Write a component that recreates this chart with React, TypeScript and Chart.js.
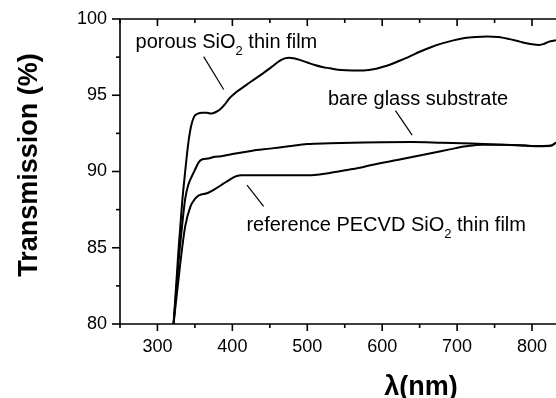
import React, { useEffect, useRef } from 'react';
import { Chart, registerables } from 'chart.js';

Chart.register(...registerables);

// wavelength (nm) and transmission (%) for each measured curve
const porousLambda = [320, 321.5, 328, 333, 337, 341, 345, 349, 354, 360, 366, 372, 378, 383, 390, 396, 405, 415, 425, 440, 455, 463, 470, 476, 482, 490, 500, 510, 520, 530, 545, 560, 575, 590, 600, 610, 620, 635, 650, 665, 680, 695, 710, 725, 740, 755, 770, 785, 800, 810, 815, 822, 832];
const porousT = [79.2, 80, 84.8, 88.0, 90.0, 91.8, 93.0, 93.6, 93.8, 93.85, 93.85, 93.8, 93.9, 94.05, 94.4, 94.8, 95.2, 95.55, 95.9, 96.4, 96.95, 97.25, 97.42, 97.46, 97.42, 97.32, 97.15, 96.98, 96.85, 96.77, 96.65, 96.62, 96.63, 96.72, 96.85, 97.0, 97.2, 97.5, 97.85, 98.15, 98.4, 98.6, 98.75, 98.82, 98.85, 98.82, 98.68, 98.5, 98.35, 98.3, 98.35, 98.5, 98.6];

const bareLambda = [320, 321.5, 328, 333, 337, 341, 346, 350, 355, 360, 368, 375, 385, 400, 425, 450, 475, 500, 530, 575, 600, 640, 680, 720, 760, 790, 810, 825, 832];
const bareT = [79.2, 80, 84.0, 86.5, 88.2, 89.1, 89.7, 90.1, 90.6, 90.8, 90.85, 90.95, 91.0, 91.15, 91.35, 91.5, 91.65, 91.8, 91.85, 91.9, 91.92, 91.93, 91.88, 91.83, 91.76, 91.7, 91.67, 91.7, 91.9];

const refLambda = [320, 321.5, 326, 331, 337, 344, 350, 356, 366, 375, 388, 395, 401, 406, 412, 420, 440, 480, 510, 530, 553, 575, 597, 620, 645, 670, 690, 712, 734, 760, 790, 810, 825, 832];
const refT = [79.2, 80, 82.0, 84.2, 86.4, 87.7, 88.2, 88.45, 88.57, 88.8, 89.2, 89.42, 89.6, 89.7, 89.75, 89.76, 89.75, 89.75, 89.77, 89.9, 90.1, 90.3, 90.54, 90.75, 91.0, 91.25, 91.45, 91.65, 91.76, 91.76, 91.7, 91.65, 91.68, 91.88];

// axis definitions
const xMin = 250;
const xMax = 832;
const xMajorStep = 100;
const xMinorStep = 50;
const yMin = 80;
const yMax = 100;
const yMajorStep = 5;
const yMinorStep = 2.5;

// texts
const yTitle = 'Transmission (%)';
const xTitle = 'λ(nm)';
const porousLabel = [{ t: 'porous SiO' }, { t: '2', sub: true }, { t: ' thin film' }];
const bareLabel = [{ t: 'bare glass substrate' }];
const refLabel = [{ t: 'reference PECVD SiO' }, { t: '2', sub: true }, { t: ' thin film' }];

const FONT = '"Liberation Sans", Arial, Helvetica, sans-serif';

function toPoints(xs: number[], ys: number[]) {
  return xs.map((x, i) => ({ x, y: ys[i] }));
}

function drawRich(ctx: CanvasRenderingContext2D, x: number, y: number, parts: { t: string; sub?: boolean }[]) {
  let cx = x;
  for (const p of parts) {
    ctx.font = p.sub ? `13px ${FONT}` : `20px ${FONT}`;
    ctx.fillText(p.t, cx, p.sub ? y + 7 : y);
    cx += ctx.measureText(p.t).width;
  }
}

const decorPlugin = {
  id: 'decor',
  afterDraw(chart: any) {
    const { ctx, chartArea: a } = chart;
    const xs = chart.scales.x;
    const ys = chart.scales.y;
    ctx.save();
    ctx.strokeStyle = '#000';
    ctx.fillStyle = '#000';
    ctx.lineWidth = 1.6;
    ctx.lineCap = 'butt';
    // frame (left, bottom, top)
    ctx.beginPath();
    ctx.moveTo(a.right + 2, a.top);
    ctx.lineTo(a.left, a.top);
    ctx.lineTo(a.left, a.bottom);
    ctx.lineTo(a.right + 2, a.bottom);
    ctx.stroke();
    // x ticks
    for (let v = xMin; v <= xMax; v += xMinorStep) {
      const px = xs.getPixelForValue(v);
      const major = v % xMajorStep === 0;
      const len = major ? 7 : 4;
      ctx.beginPath();
      ctx.moveTo(px, a.bottom);
      ctx.lineTo(px, a.bottom + len);
      ctx.moveTo(px, a.top);
      ctx.lineTo(px, a.top + len);
      ctx.stroke();
    }
    // y ticks
    for (let v = yMin; v <= yMax; v += yMinorStep) {
      const py = ys.getPixelForValue(v);
      const major = v % yMajorStep === 0;
      const len = major ? 8 : 4;
      ctx.beginPath();
      ctx.moveTo(a.left, py);
      ctx.lineTo(a.left - len, py);
      ctx.stroke();
    }
    // annotations with leader lines
    ctx.lineWidth = 1.2;
    const seg = (x1: number, y1: number, x2: number, y2: number) => {
      ctx.beginPath();
      ctx.moveTo(xs.getPixelForValue(x1), ys.getPixelForValue(y1));
      ctx.lineTo(xs.getPixelForValue(x2), ys.getPixelForValue(y2));
      ctx.stroke();
    };
    seg(361.7, 97.53, 388.4, 95.38);
    seg(617.7, 93.99, 640, 92.38);
    seg(419.6, 89.11, 441.7, 87.72);
    ctx.textAlign = 'left';
    ctx.textBaseline = 'alphabetic';
    drawRich(ctx, xs.getPixelForValue(270.7), ys.getPixelForValue(98.12), porousLabel);
    drawRich(ctx, xs.getPixelForValue(527.6), ys.getPixelForValue(94.36), bareLabel);
    drawRich(ctx, xs.getPixelForValue(418.7), ys.getPixelForValue(86.12), refLabel);
    // axis titles
    ctx.font = `bold 27px ${FONT}`;
    ctx.textAlign = 'center';
    ctx.save();
    ctx.translate(a.left - 83, 165);
    ctx.rotate(-Math.PI / 2);
    ctx.fillText(yTitle, 0, 0);
    ctx.restore();
    ctx.fillText(xTitle, 421, 395);
    ctx.restore();
  },
};

export default function App() {
  const ref = useRef<HTMLCanvasElement | null>(null);
  useEffect(() => {
    if (!ref.current) return;
    const lineStyle = {
      borderColor: '#000',
      borderWidth: 2,
      pointRadius: 0,
      fill: false,
      cubicInterpolationMode: 'monotone' as const,
    };
    const chart = new Chart(ref.current, {
      type: 'line',
      data: {
        datasets: [
          { label: 'porous SiO2 thin film', data: toPoints(porousLambda, porousT), ...lineStyle },
          { label: 'bare glass substrate', data: toPoints(bareLambda, bareT), ...lineStyle },
          { label: 'reference PECVD SiO2 thin film', data: toPoints(refLambda, refT), ...lineStyle },
        ],
      },
      options: {
        animation: false,
        responsive: false,
        layout: { padding: { top: 19, right: 0, left: 0, bottom: 0 } },
        plugins: { legend: { display: false }, tooltip: { enabled: false } },
        scales: {
          x: {
            type: 'linear',
            min: xMin,
            max: xMax,
            grid: { display: false },
            border: { display: false },
            afterFit: (s: any) => { s.height = 74; },
            ticks: {
              stepSize: xMinorStep,
              includeBounds: false,
              autoSkip: false,
              maxRotation: 0,
              padding: 4,
              color: '#000',
              font: { family: FONT, size: 18 },
              callback: (v: any) => (Number(v) % xMajorStep === 0 ? String(v) : ''),
            },
          },
          y: {
            type: 'linear',
            min: yMin,
            max: yMax,
            grid: { display: false },
            border: { display: false },
            afterFit: (s: any) => { s.width = 120; },
            ticks: {
              stepSize: yMinorStep,
              autoSkip: false,
              padding: 5,
              color: '#000',
              font: { family: FONT, size: 18 },
              callback: (v: any) => (Number(v) % yMajorStep === 0 ? String(v) : ''),
            },
          },
        },
      },
      plugins: [decorPlugin],
    });
    return () => chart.destroy();
  }, []);
  return (
    <div style={{ position: 'absolute', left: 0, top: 0, width: 556, height: 398, background: '#fff' }}>
      <canvas ref={ref} width={556} height={398} />
    </div>
  );
}
